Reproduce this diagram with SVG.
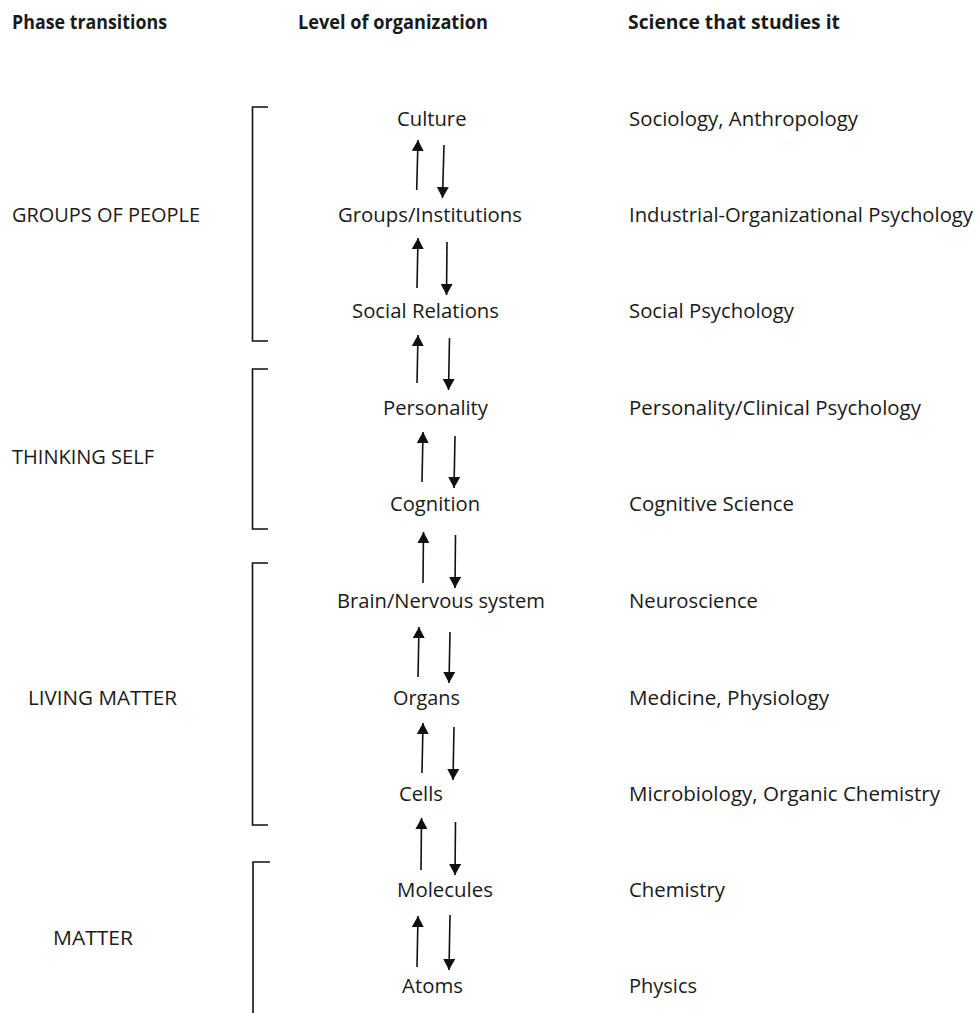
<svg xmlns="http://www.w3.org/2000/svg" width="980" height="1013" viewBox="0 0 980 1013">
<style>
text{font-family:"Open Sans","Liberation Sans",sans-serif;font-size:20.5px;fill:#1a1a1a}
.h{font-weight:bold;font-size:19.5px}
.ln{stroke:#111;stroke-width:1.6;fill:none}
.br{stroke:#111;stroke-width:1.6;fill:none}
</style>
<defs>
<marker id="ah" viewBox="0 0 11 12" refX="11" refY="6" markerWidth="11" markerHeight="12" markerUnits="userSpaceOnUse" orient="auto">
<path d="M0,0 L11,6 L0,12 Z" fill="#111"/>
</marker>
</defs>
<rect width="980" height="1013" fill="#fff"/>
<g id="headers">
<text class="h" x="12" y="29" textLength="155" lengthAdjust="spacingAndGlyphs">Phase transitions</text>
<text class="h" x="298" y="29" textLength="190" lengthAdjust="spacingAndGlyphs">Level of organization</text>
<text class="h" x="628" y="29" textLength="212" lengthAdjust="spacingAndGlyphs">Science that studies it</text>
</g>
<g id="phases">
<g id="phase-groups"><path class="br" d="M268,107 H252.5 V341 H268"/><text x="12" y="222" textLength="188" lengthAdjust="spacingAndGlyphs">GROUPS OF PEOPLE</text></g>
<g id="phase-thinking"><path class="br" d="M268,369 H252.5 V529 H268"/><text x="12" y="464" textLength="142" lengthAdjust="spacingAndGlyphs">THINKING SELF</text></g>
<g id="phase-living"><path class="br" d="M268,563 H252.5 V825 H268"/><text x="28" y="705" textLength="149" lengthAdjust="spacingAndGlyphs">LIVING MATTER</text></g>
<g id="phase-matter"><path class="br" d="M270,862 H253 V1013"/><text x="53" y="945" textLength="80" lengthAdjust="spacingAndGlyphs">MATTER</text></g>
</g>
<g id="level-culture"><text x="397" y="126" textLength="69.5" lengthAdjust="spacingAndGlyphs">Culture</text><text x="629" y="126" textLength="229" lengthAdjust="spacingAndGlyphs">Sociology, Anthropology</text></g>
<g id="level-groups"><text x="338" y="222" textLength="184" lengthAdjust="spacingAndGlyphs">Groups/Institutions</text><text x="629" y="222" textLength="344" lengthAdjust="spacingAndGlyphs">Industrial-Organizational Psychology</text></g>
<g id="level-social"><text x="352" y="318" textLength="147" lengthAdjust="spacingAndGlyphs">Social Relations</text><text x="629" y="318" textLength="165" lengthAdjust="spacingAndGlyphs">Social Psychology</text></g>
<g id="level-personality"><text x="383" y="415" textLength="105" lengthAdjust="spacingAndGlyphs">Personality</text><text x="629" y="415" textLength="292" lengthAdjust="spacingAndGlyphs">Personality/Clinical Psychology</text></g>
<g id="level-cognition"><text x="390" y="511" textLength="90" lengthAdjust="spacingAndGlyphs">Cognition</text><text x="629" y="511" textLength="165" lengthAdjust="spacingAndGlyphs">Cognitive Science</text></g>
<g id="level-brain"><text x="337" y="608" textLength="208" lengthAdjust="spacingAndGlyphs">Brain/Nervous system</text><text x="629" y="608" textLength="129" lengthAdjust="spacingAndGlyphs">Neuroscience</text></g>
<g id="level-organs"><text x="393" y="705" textLength="67" lengthAdjust="spacingAndGlyphs">Organs</text><text x="629" y="705" textLength="200" lengthAdjust="spacingAndGlyphs">Medicine, Physiology</text></g>
<g id="level-cells"><text x="399" y="801" textLength="44" lengthAdjust="spacingAndGlyphs">Cells</text><text x="629" y="801" textLength="311" lengthAdjust="spacingAndGlyphs">Microbiology, Organic Chemistry</text></g>
<g id="level-molecules"><text x="397" y="897" textLength="96" lengthAdjust="spacingAndGlyphs">Molecules</text><text x="629" y="897" textLength="96" lengthAdjust="spacingAndGlyphs">Chemistry</text></g>
<g id="level-atoms"><text x="402" y="993" textLength="61" lengthAdjust="spacingAndGlyphs">Atoms</text><text x="629" y="993" textLength="68" lengthAdjust="spacingAndGlyphs">Physics</text></g>
<g id="connectors">
<path class="ln" marker-end="url(#ah)" d="M416.7,190 L418,140"/>
<path class="ln" marker-end="url(#ah)" d="M444,145 L442.5,198"/>
<path class="ln" marker-end="url(#ah)" d="M417,288 L418,238"/>
<path class="ln" marker-end="url(#ah)" d="M447,242 L446.5,295"/>
<path class="ln" marker-end="url(#ah)" d="M417,383 L418,335"/>
<path class="ln" marker-end="url(#ah)" d="M449.5,338 L448.5,390"/>
<path class="ln" marker-end="url(#ah)" d="M422,482 L423,432"/>
<path class="ln" marker-end="url(#ah)" d="M455,436 L454,488"/>
<path class="ln" marker-end="url(#ah)" d="M423,583 L423.5,532"/>
<path class="ln" marker-end="url(#ah)" d="M455.5,535 L455,588"/>
<path class="ln" marker-end="url(#ah)" d="M418,677 L419,627"/>
<path class="ln" marker-end="url(#ah)" d="M450,632 L449,683"/>
<path class="ln" marker-end="url(#ah)" d="M422,773 L423,723"/>
<path class="ln" marker-end="url(#ah)" d="M454,727 L453,780"/>
<path class="ln" marker-end="url(#ah)" d="M421,870 L421.5,818"/>
<path class="ln" marker-end="url(#ah)" d="M455.5,822 L455,875"/>
<path class="ln" marker-end="url(#ah)" d="M417,967 L418,916"/>
<path class="ln" marker-end="url(#ah)" d="M450,915 L449,970"/>
</g>
</svg>
